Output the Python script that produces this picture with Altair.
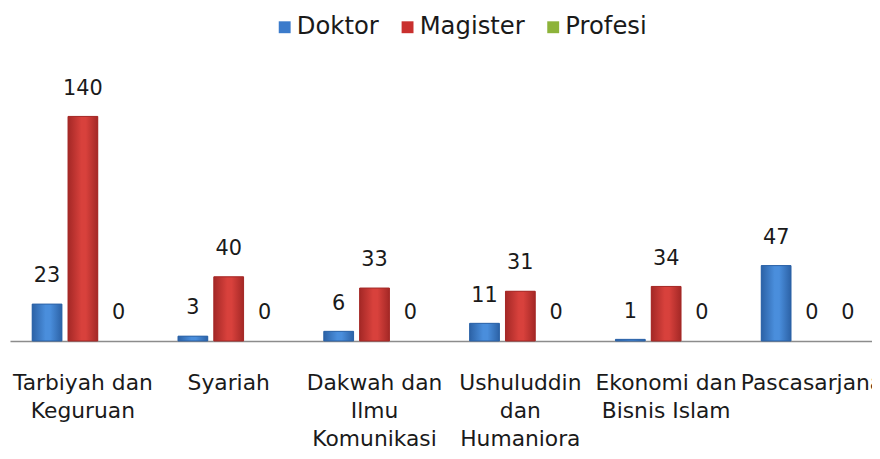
import altair as alt
import pandas as pd

categories = ["Tarbiyah dan|Keguruan", "Syariah", "Dakwah dan|Ilmu|Komunikasi",
              "Ushuluddin|dan|Humaniora", "Ekonomi dan|Bisnis Islam", "Pascasarjana"]
series = ["Doktor", "Magister", "Profesi"]
doktor = [23, 3, 6, 11, 1, 47]
magister = [140, 40, 33, 31, 34, 0]
profesi = [0, 0, 0, 0, 0, 0]
colors = ["#3B7BCB", "#C9302E", "#8DB33A"]
edges = ["#2C62A6", "#A42826", "#6A8A2A"]
lights = ["#4A8EDC", "#D8413C", "#9CC44A"]

rows = []
for i, c in enumerate(categories):
    for s, vals in zip(series, [doktor, magister, profesi]):
        rows.append({"cat": c, "series": s, "value": vals[i]})
df = pd.DataFrame(rows)

FONT = "DejaVu Sans"

x = alt.X("cat:N", sort=categories, title=None,
          scale=alt.Scale(paddingInner=0, paddingOuter=0),
          axis=alt.Axis(labelAngle=0, ticks=False, domainColor="#8c8c8c", domainWidth=1.5,
                        labelExpr="split(datum.label, '|')", labelFontSize=22,
                        labelFont=FONT, labelColor="#1a1a1a", labelPadding=32,
                        labelLineHeight=28.5, labelBaseline="top", labelLimit=0,
                        labelOverlap=False))
xo = alt.XOffset("series:N", sort=series,
                 scale=alt.Scale(domain=series, paddingInner=0.17, paddingOuter=0.62))
y = alt.Y("value:Q", scale=alt.Scale(domain=[0, 160]), axis=None)
color = alt.Color("series:N", sort=series,
                  scale=alt.Scale(domain=series, range=colors),
                  legend=alt.Legend(title=None, orient="none", direction="horizontal",
                                    legendX=265, legendY=-70, symbolType="square",
                                    symbolSize=144, symbolStrokeWidth=0,
                                    labelFont=FONT, labelFontSize=24.5, labelColor="#1a1a1a",
                                    columnPadding=16, labelOffset=0))

base = alt.Chart(df).transform_filter("datum.value > 0")
bars = base.mark_bar().encode(x=x, xOffset=xo, y=y, color=color)

grad_layers = []
for s, e, l in zip(series, edges, lights):
    g = alt.Gradient(gradient="linear", x1=0, x2=1, y1=0, y2=0,
                     stops=[alt.GradientStop(color=e, offset=0),
                            alt.GradientStop(color=l, offset=0.45),
                            alt.GradientStop(color=l, offset=0.6),
                            alt.GradientStop(color=e, offset=1)])
    grad_layers.append(
        base.transform_filter(alt.datum.series == s)
        .mark_bar(color=g, stroke=e, strokeWidth=1)
        .encode(x=x, xOffset=xo, y=y)
    )

labels = alt.Chart(df).mark_text(baseline="middle", dy=-28, fontSize=21, font=FONT,
                                 color="#1a1a1a").encode(
    x=x, xOffset=xo, y=y, text="value:Q"
)

chart = alt.layer(bars, *grad_layers, labels).properties(
    width=883, height=259,
    padding={"left": 2, "top": 75, "right": -13, "bottom": 110},
    autosize=alt.AutoSizeParams(type="none")
).configure(background="white").configure_view(stroke=None)

chart.save("out.html", embed_options={"renderer": "svg", "actions": False})
